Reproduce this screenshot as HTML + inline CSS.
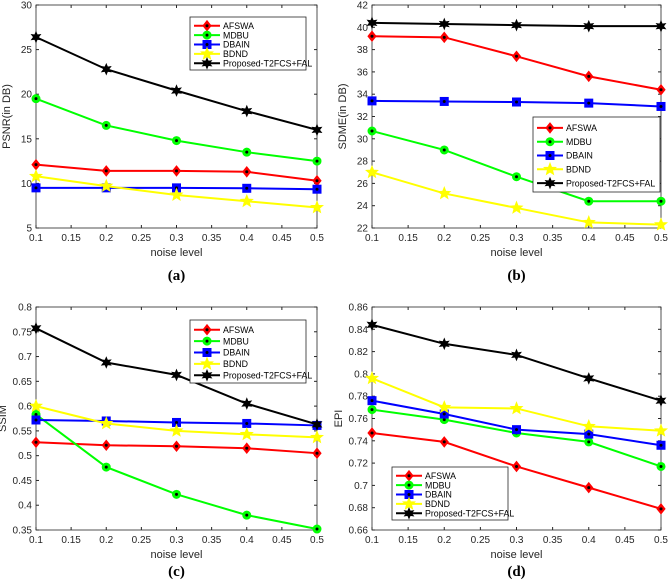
<!DOCTYPE html>
<html><head><meta charset="utf-8"><style>
body{margin:0;background:#fff;}
svg{display:block;font-family:"Liberation Sans",sans-serif;}
</style></head><body>
<svg id="fig" width="669" height="583"></svg>
<script>
const xVals=[0.1,0.2,0.3,0.4,0.5];
const seriesNames=["AFSWA","MDBU","DBAIN","BDND","Proposed-T2FCS+FAL"];
const psnrAFSWA=[12.1,11.4,11.4,11.3,10.3];
const psnrMDBU=[19.5,16.5,14.8,13.5,12.5];
const psnrDBAIN=[9.5,9.5,9.5,9.45,9.35];
const psnrBDND=[10.8,9.7,8.7,8.0,7.3];
const psnrProp=[26.4,22.8,20.4,18.1,16.0];
const sdmeAFSWA=[39.2,39.1,37.4,35.6,34.4];
const sdmeMDBU=[30.7,29.0,26.6,24.4,24.4];
const sdmeDBAIN=[33.4,33.35,33.3,33.2,32.9];
const sdmeBDND=[27.0,25.1,23.8,22.5,22.3];
const sdmeProp=[40.4,40.3,40.2,40.1,40.1];
const ssimAFSWA=[0.527,0.521,0.519,0.515,0.505];
const ssimMDBU=[0.583,0.477,0.422,0.38,0.352];
const ssimDBAIN=[0.572,0.57,0.567,0.565,0.561];
const ssimBDND=[0.6,0.565,0.55,0.543,0.537];
const ssimProp=[0.757,0.688,0.663,0.605,0.563];
const epiAFSWA=[0.747,0.739,0.717,0.698,0.679];
const epiMDBU=[0.768,0.759,0.747,0.739,0.717];
const epiDBAIN=[0.776,0.764,0.750,0.746,0.736];
const epiBDND=[0.796,0.770,0.769,0.753,0.749];
const epiProp=[0.844,0.827,0.817,0.796,0.776];
const xTicks=[0.1,0.15,0.2,0.25,0.3,0.35,0.4,0.45,0.5];
const psnrTicks=[5,10,15,20,25,30];
const sdmeTicks=[22,24,26,28,30,32,34,36,38,40,42];
const ssimTicks=[0.35,0.4,0.45,0.5,0.55,0.6,0.65,0.7,0.75,0.8];
const epiTicks=[0.66,0.68,0.7,0.72,0.74,0.76,0.78,0.8,0.82,0.84,0.86];

const NS="http://www.w3.org/2000/svg";
const svg=document.getElementById('fig');
const colors=["#ff0000","#00ff00","#0000ff","#ffff00","#000000"];
const shapes=["diamond","circle","square","star","hex"];
function mk(tag,attrs,parent){const e=document.createElementNS(NS,tag);for(const k in attrs)e.setAttribute(k,attrs[k]);(parent||svg).appendChild(e);return e;}
function fmt(v){return String(+v.toFixed(3));}
function marker(g,s,x,y,c){
  let m;
  if(s==="diamond")m=mk('polygon',{points:`${x},${y-5} ${x+4},${y} ${x},${y+5} ${x-4},${y}`,fill:c,stroke:c},g);
  else if(s==="circle")m=mk('circle',{cx:x,cy:y,r:4,fill:c,stroke:c},g);
  else if(s==="square")m=mk('rect',{x:x-4,y:y-4,width:8,height:8,fill:c,stroke:c},g);
  else{const n=s==="star"?5:6;const R=s==="star"?6:5,r=s==="star"?2.6:2.4;let p=[];for(let i=0;i<2*n;i++){const a=-Math.PI/2+i*Math.PI/n;const rr=i%2?r:R;p.push((x+rr*Math.cos(a)).toFixed(1)+','+(y+rr*Math.sin(a)).toFixed(1));}m=mk('polygon',{points:p.join(' '),fill:c,stroke:c},g);}
  
  
  if(s!=="star"){const d=mk('circle',{cx:x,cy:y,r:1.5,fill:'#000'},g);}
}
function panel(id,L,R,T,B,yTicks,ylabel,series,leg,letter,labY){
  const g=mk('g',{});
  
  
  const ymin=yTicks[0],ymax=yTicks[yTicks.length-1];
  const sx=v=>L+(v-0.1)/(0.4)*(R-L);
  const sy=v=>B-(v-ymin)/(ymax-ymin)*(B-T);
  const box=mk('rect',{x:L,y:T,width:R-L,height:B-T,fill:'#fff',stroke:'#262626','stroke-width':0.8},g);
  
  xTicks.forEach(t=>{const x=sx(t);mk('line',{x1:x,x2:x,y1:B,y2:B-3,stroke:'#262626'},g);mk('line',{x1:x,x2:x,y1:T,y2:T+3,stroke:'#262626'},g);
    const tx=mk('text',{x:x,y:B+13,'font-size':10,'text-anchor':'middle',fill:'#262626'},g);tx.textContent=fmt(t);});
  yTicks.forEach(t=>{const y=sy(t);mk('line',{x1:L,x2:L+3,y1:y,y2:y,stroke:'#262626'},g);mk('line',{x1:R,x2:R-3,y1:y,y2:y,stroke:'#262626'},g);
    const tx=mk('text',{x:L-4,y:y+3.5,'font-size':10,'text-anchor':'end',fill:'#262626'},g);tx.textContent=fmt(t);});
  const xl=mk('text',{x:(L+R)/2,y:B+28,'font-size':11,'text-anchor':'middle',fill:'#262626'},g);xl.textContent='noise level';
  
  const yx=L-(ylabel.length>4?26:30);
  const yl=mk('text',{x:yx,y:(T+B)/2,'font-size':11,'text-anchor':'middle',fill:'#262626',transform:`rotate(-90 ${yx} ${(T+B)/2})`},g);yl.textContent=ylabel;
  
  series.forEach((s,i)=>{
    const pl=mk('polyline',{points:s.map((v,j)=>sx(xVals[j])+','+sy(v)).join(' '),fill:'none',stroke:colors[i],'stroke-width':2},g);
    
    
    s.forEach((v,j)=>marker(g,shapes[i],sx(xVals[j]),sy(v),colors[i]));
  });
  const lg=mk('g',{},g);
  
  
  mk('rect',{x:leg[0],y:leg[1],width:leg[2],height:leg[3],fill:'#fff',stroke:'#262626','stroke-width':0.8},lg);
  const step=(leg[3]-6)/5;
  seriesNames.forEach((n,i)=>{const y=leg[1]+4+step*(i+0.5);
    const e=mk('g',{},lg);
    mk('line',{x1:leg[0]+4,x2:leg[0]+30,y1:y,y2:y,stroke:colors[i],'stroke-width':2},e);
    marker(e,shapes[i],leg[0]+17,y,colors[i]);
    const t=mk('text',{x:leg[0]+33,y:y+3.2,'font-size':8.8,fill:'#000'},e);t.textContent=n;});
  const lt=mk('text',{x:(L+R)/2,y:labY,'font-size':15,'font-weight':'bold','font-family':'Liberation Serif, serif','text-anchor':'middle'},g);lt.textContent=letter;
  
}
panel('a',36,317,5,228,psnrTicks,'PSNR(in DB)',[psnrAFSWA,psnrMDBU,psnrDBAIN,psnrBDND,psnrProp],[190,17,116,53],'(a)',280);
panel('b',372,661,5,228,sdmeTicks,'SDME(in DB)',[sdmeAFSWA,sdmeMDBU,sdmeDBAIN,sdmeBDND,sdmeProp],[533,117,127,75],'(b)',280);
panel('c',36,317,307,530,ssimTicks,'SSIM',[ssimAFSWA,ssimMDBU,ssimDBAIN,ssimBDND,ssimProp],[190,320,116,63],'(c)',576);
panel('d',372,661,307,530,epiTicks,'EPI',[epiAFSWA,epiMDBU,epiDBAIN,epiBDND,epiProp],[392,467,116,53],'(d)',576);
</script>
</body></html>
